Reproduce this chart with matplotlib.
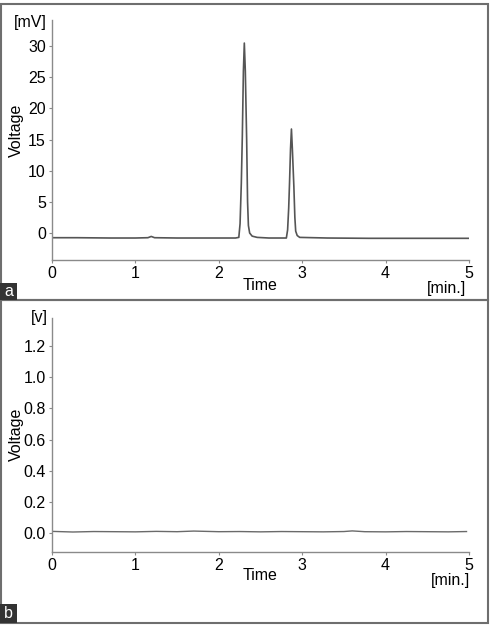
import numpy as np
import matplotlib.pyplot as plt
from matplotlib.patches import Rectangle

plt.rcParams['font.family'] = ['Liberation Sans', 'DejaVu Sans']

# panel a: chromatogram (time in min, voltage in mV)
time_a = [0.0, 0.3, 0.7, 1.0, 1.15, 1.19, 1.23, 1.5, 1.9, 2.2, 2.24, 2.255, 2.27, 2.282,
          2.295, 2.306, 2.318, 2.334, 2.345, 2.355, 2.37, 2.40, 2.46, 2.6, 2.81, 2.825,
          2.838, 2.848, 2.86, 2.871, 2.882, 2.90, 2.912, 2.922, 2.94, 2.97, 3.3, 3.8,
          4.3, 4.7, 4.99]
volt_a = [-0.75, -0.75, -0.8, -0.8, -0.75, -0.55, -0.75, -0.8, -0.8, -0.8, -0.7, 1.5, 8.0,
          15.5, 26.0, 30.5, 26.0, 15.0, 5.0, 1.2, 0.0, -0.5, -0.7, -0.8, -0.8, 0.5,
          4.0, 8.0, 13.5, 16.7, 13.5, 7.5, 2.5, 0.3, -0.4, -0.7, -0.8, -0.85,
          -0.85, -0.85, -0.85]

# panel b: flat trace (time in min, voltage in V)
time_b = [0.0, 0.25, 0.5, 0.75, 1.0, 1.25, 1.5, 1.7, 2.0, 2.25, 2.5, 2.75, 3.0, 3.25,
          3.5, 3.6, 3.75, 4.0, 4.25, 4.5, 4.75, 4.97]
volt_b = [0.012, 0.008, 0.011, 0.010, 0.009, 0.012, 0.010, 0.014, 0.010, 0.011, 0.009,
          0.011, 0.010, 0.009, 0.011, 0.015, 0.010, 0.009, 0.011, 0.010, 0.009, 0.011]

x_ticks = [0, 1, 2, 3, 4, 5]
y_ticks_a = [0, 5, 10, 15, 20, 25, 30]
y_ticks_b = [0.0, 0.2, 0.4, 0.6, 0.8, 1.0, 1.2]

W, H = 490, 628
fig = plt.figure(figsize=(W / 100, H / 100), dpi=100)


def fx(px):
    return px / W


def fy(py):
    return 1 - py / H


spine_col = '#8a8a8a'
line_col = '#555555'
fs = 11.5


def style(ax):
    for s in ['top', 'right']:
        ax.spines[s].set_visible(False)
    for s in ['left', 'bottom']:
        ax.spines[s].set_color(spine_col)
        ax.spines[s].set_linewidth(1.0)
    ax.tick_params(axis='both', direction='out', length=2.5, width=0.8,
                   color=spine_col, labelsize=fs, pad=2)
    ax.set_xlim(0, 5)
    ax.set_xticks(x_ticks)
    ax.patch.set_alpha(0)


# panel a
ax1 = fig.add_axes([fx(52), fy(260), fx(469 - 52), fy(20) - fy(260)])
ax1.plot(time_a, volt_a, color=line_col, lw=1.2)
ax1.set_ylim(-4.33, 34.2)
ax1.set_yticks(y_ticks_a)
style(ax1)

# panel b
ax2 = fig.add_axes([fx(52), fy(552), fx(469 - 52), fy(318) - fy(552)])
ax2.plot(time_b, volt_b, color='#6a6a6a', lw=1.0)
ax2.set_ylim(-0.12, 1.378)
ax2.set_yticks(y_ticks_b)
ax2.set_yticklabels(['%.1f' % v for v in y_ticks_b])
style(ax2)

# axis texts
fig.text(fx(47), fy(23), '[mV]', ha='right', va='center', fontsize=fs)
fig.text(fx(16), fy(130), 'Voltage', ha='center', va='center', rotation=90, fontsize=fs)
fig.text(fx(260), fy(285), 'Time', ha='center', va='center', fontsize=fs)
fig.text(fx(466), fy(288), '[min.]', ha='right', va='center', fontsize=fs)

fig.text(fx(48), fy(317), '[v]', ha='right', va='center', fontsize=fs)
fig.text(fx(16), fy(434), 'Voltage', ha='center', va='center', rotation=90, fontsize=fs)
fig.text(fx(260), fy(575), 'Time', ha='center', va='center', fontsize=fs)
fig.text(fx(470), fy(581), '[min.]', ha='right', va='center', fontsize=fs)

# panel frames
border = '#6e6e6e'
fig.add_artist(Rectangle((fx(1), fy(300)), fx(487), fy(4) - fy(300), transform=fig.transFigure,
                         fill=False, ec=border, lw=1.5))
fig.add_artist(Rectangle((fx(1), fy(623)), fx(487), fy(300) - fy(623), transform=fig.transFigure,
                         fill=False, ec=border, lw=1.5))

# panel letters
for lab, top, bot in [('a', 283, 300), ('b', 604, 623)]:
    fig.add_artist(Rectangle((fx(0), fy(bot)), fx(17), fy(top) - fy(bot), transform=fig.transFigure,
                             fc='#333333', ec='none'))
    fig.text(fx(8.5), fy((top + bot) / 2), lab, ha='center', va='center', fontsize=fs, color='white')

fig.savefig('out.png', dpi=100)
